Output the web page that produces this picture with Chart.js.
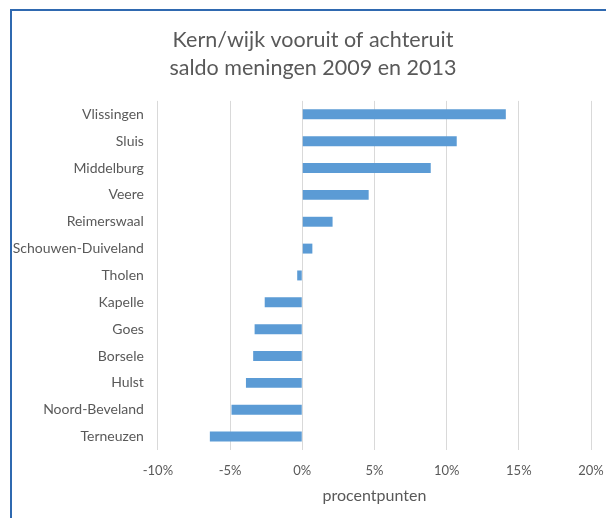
<!DOCTYPE html>
<html>
<head>
<meta charset="utf-8">
<script src="https://cdn.jsdelivr.net/npm/chart.js@4"></script>
<style>
    html, body { margin: 0; padding: 0; background: #fff; overflow: hidden; }
    .frame {
        position: absolute;
        left: 10px;
        top: 9px;
        width: 620px;
        height: 540px;
        border-left: 2px solid #2f69b0;
        border-top: 2px solid #2f69b0;
    }
    .wrap { position: absolute; left: 0; top: 0; width: 606px; height: 518px; }
</style>
</head>
<body>
<div class="frame"></div>
<div class="wrap"><canvas id="saldoChart" width="606" height="518"></canvas></div>
<script>
// Saldo meningen per kern/wijk, verschil 2009 -> 2013 (procentpunten)
const gemeenten = [
    "Vlissingen", "Sluis", "Middelburg", "Veere", "Reimerswaal",
    "Schouwen-Duiveland", "Tholen", "Kapelle", "Goes", "Borsele",
    "Hulst", "Noord-Beveland", "Terneuzen"
];
const saldo = [14.1, 10.7, 8.9, 4.6, 2.1, 0.7, -0.35, -2.6, -3.3, -3.4, -3.9, -4.9, -6.4];
const asTicks = [-10, -5, 0, 5, 10, 15, 20];

const grijs = "#595959";
const lettertype = "Lato, 'Open Sans', sans-serif";

document.addEventListener("DOMContentLoaded", function () {
    const ctx = document.getElementById("saldoChart").getContext("2d");
    new Chart(ctx, {
        type: "bar",
        data: {
            labels: gemeenten,
            datasets: [{
                data: saldo,
                backgroundColor: "#5b9bd5",
                categoryPercentage: 1,
                barPercentage: 0.37
            }]
        },
        options: {
            indexAxis: "y",
            responsive: false,
            animation: false,
            // negatieve padding: namen tot tegen de rand, titel iets rechts van het midden
            layout: { padding: { left: -1.25, right: -21.25, top: 0, bottom: 0 } },
            plugins: {
                legend: { display: false },
                tooltip: { enabled: false },
                title: {
                    display: true,
                    text: ["Kern/wijk vooruit of achteruit", "saldo meningen 2009 en 2013"],
                    color: grijs,
                    font: { family: lettertype, size: 21.5, weight: "normal", lineHeight: 1.3 },
                    padding: { top: 26, bottom: 19 }
                }
            },
            scales: {
                x: {
                    min: asTicks[0],
                    max: asTicks[asTicks.length - 1],
                    afterBuildTicks: (scale) => {
                        scale.ticks = asTicks.map(v => ({ value: v }));
                    },
                    afterFit: (scale) => {
                        scale.height = 68;
                        scale.paddingLeft = 0;
                        scale.paddingRight = 15;
                    },
                    ticks: {
                        color: grijs,
                        padding: 13,
                        font: { family: lettertype, size: 13 },
                        callback: (v) => v + "%"
                    },
                    grid: { color: "#d9d9d9", drawTicks: false },
                    border: { display: false },
                    title: {
                        display: true,
                        text: "procentpunten",
                        color: grijs,
                        font: { family: lettertype, size: 16 },
                        padding: { top: 4, bottom: 13 }
                    }
                },
                y: {
                    ticks: {
                        color: grijs,
                        padding: 14,
                        font: { family: lettertype, size: 14 }
                    },
                    grid: { display: false, drawTicks: false },
                    border: { display: false }
                }
            }
        }
    });
});
</script>
</body>
</html>
